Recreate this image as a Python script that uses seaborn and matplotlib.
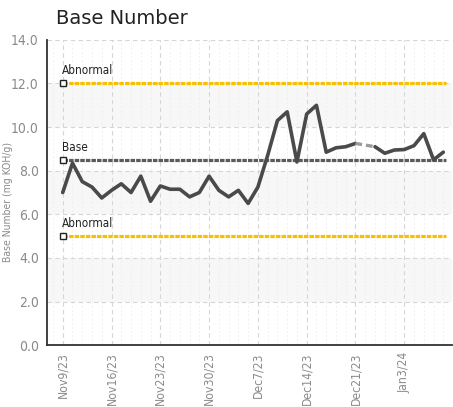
import matplotlib
matplotlib.use("Agg")
import matplotlib.pyplot as plt
import matplotlib.ticker as mticker
import seaborn as sns
import pandas as pd

# samples (weekday index) and readings
sample_idx = list(range(0, 31)) + list(range(32, 40))
base_number = [7.0, 8.35, 7.5, 7.25, 6.75, 7.1, 7.4, 7.0, 7.75, 6.6,
               7.3, 7.15, 7.15, 6.8, 7.0, 7.75, 7.1, 6.8, 7.1, 6.5,
               7.25, 8.7, 10.3, 10.7, 8.4, 10.6, 11.0, 8.85, 9.05, 9.1,
               9.25,
               9.1, 8.8, 8.95, 8.97, 9.15, 9.7, 8.5, 8.85]
segment = [0] * 31 + [1] * 8

tick_pos = [0, 5, 10, 15, 20, 25, 30, 35]
tick_labels = ["Nov9/23", "Nov16/23", "Nov23/23", "Nov30/23",
               "Dec7/23", "Dec14/23", "Dec21/23", "Jan3/24"]

limit_values = [12.0, 8.5, 5.0]
limit_labels = ["Abnormal", "Base", "Abnormal"]
limit_colors = ["#f6c200", "#5b5b5b", "#f6c200"]

df = pd.DataFrame({"sample": sample_idx, "bn": base_number, "seg": segment})

sns.set_style("white")
narrow = dict(family="DejaVu Sans", stretch="condensed")

fig = plt.figure(figsize=(4.53, 4.07), dpi=100)
ax = fig.add_axes([0.104, 0.152, 0.894, 0.750])

# alternating light bands
for lo in [2, 6, 10]:
    ax.axhspan(lo, lo + 2, color="#f7f7f7", zorder=0, lw=0)

# limit lines
for val, lab, col in zip(limit_values, limit_labels, limit_colors):
    ax.plot([sample_idx[0], sample_idx[-1] + 0.3], [val, val], color=col, lw=2.3,
            ls=(0, (1.4, 0.35)), zorder=2, solid_capstyle="butt")
    ax.plot(sample_idx[0], val, marker="s", ms=4.5, mfc="white", mec="#222222",
            mew=1.0, zorder=4, clip_on=False)
    ax.text(sample_idx[0] - 0.1, val + 0.28, lab, fontsize=8.5, color="#222222",
            ha="left", va="bottom", zorder=4, **narrow)

# main series
for s, part in df.groupby("seg"):
    sns.lineplot(data=part, x="sample", y="bn", ax=ax, color="#4a4a4a",
                 lw=2.6, estimator=None, zorder=3)

# missing sample -> dashed connector
gap = df[(df["sample"] == 30) | (df["sample"] == 32)]
ax.plot(gap["sample"], gap["bn"], color="#9a9a9a", lw=2.4, ls=(0, (2, 1.2)), zorder=3)

ax.set_xlim(-1.6, 39.9)
ax.set_ylim(0, 14)
ax.xaxis.set_minor_locator(mticker.MultipleLocator(1))
ax.set_xticks(tick_pos)
ax.set_xticklabels(tick_labels, rotation=90, fontsize=8.7, color="#8a8a8a", **narrow)
ax.yaxis.set_major_locator(mticker.MultipleLocator(2))
ax.yaxis.set_major_formatter(mticker.FormatStrFormatter("%.1f"))
for t in ax.get_yticklabels():
    t.set_family(narrow["family"])
    t.set_stretch(narrow["stretch"])
    t.set_fontsize(10)
    t.set_color("#8a8a8a")

ax.tick_params(axis="x", which="major", direction="inout", length=6, width=1.2, color="#222222", pad=2)
ax.tick_params(axis="x", which="minor", direction="inout", length=3, width=0.8, color="#666666")
ax.tick_params(axis="y", which="major", direction="out", length=4, width=1.2, color="#222222", pad=2)

ax.grid(True, which="major", axis="both", color="#d6d6d6", ls=(0, (4, 3)), lw=0.8)
ax.grid(True, which="minor", axis="x", color="#ececec", ls=(0, (3, 3)), lw=0.5)
ax.set_axisbelow(True)

for sp in ["top", "right"]:
    ax.spines[sp].set_visible(False)
for sp in ["left", "bottom"]:
    ax.spines[sp].set_color("#333333")
    ax.spines[sp].set_linewidth(1.3)

ax.set_xlabel("")
ax.set_ylabel("Base Number (mg KOH/g)", fontsize=7.5, color="#8a8a8a", **narrow)
ax.yaxis.set_label_coords(-0.084, 0.47)
fig.text(0.123, 0.955, "Base Number", fontsize=14, color="#222222", ha="left", va="center")

fig.savefig("out.png", dpi=100)
